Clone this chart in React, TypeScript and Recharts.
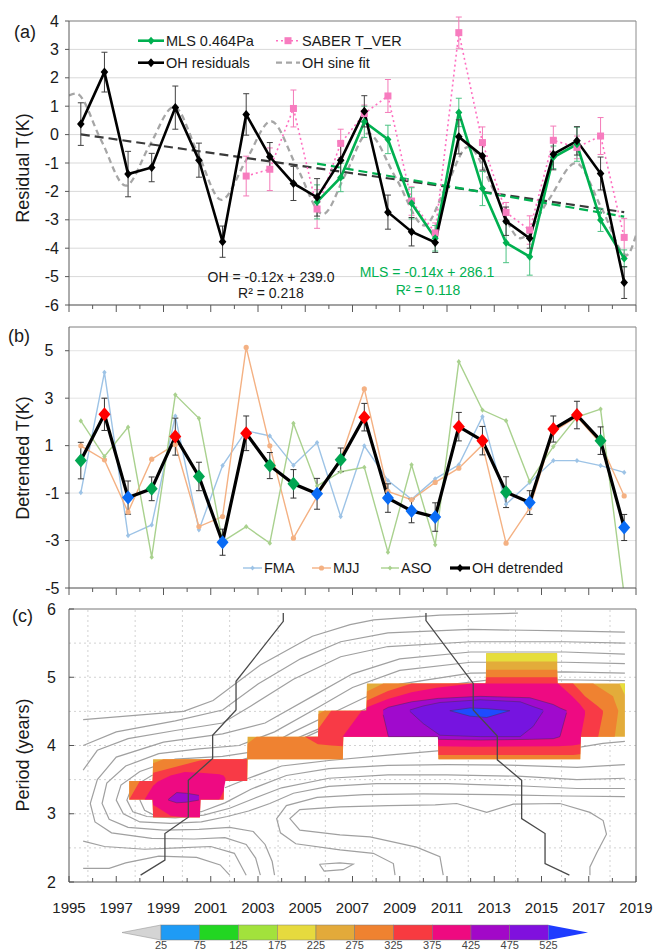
import React from "react";
import {
  ComposedChart,
  Line,
  Area,
  XAxis,
  YAxis,
  CartesianGrid,
  ReferenceLine,
  ErrorBar,
} from "recharts";

const FONT = "'Liberation Sans', Arial, Helvetica, sans-serif";

// ---------- shared x values ----------
const years = [
  1995.5, 1996.5, 1997.5, 1998.5, 1999.5, 2000.5, 2001.5, 2002.5, 2003.5, 2004.5, 2005.5, 2006.5,
  2007.5, 2008.5, 2009.5, 2010.5, 2011.5, 2012.5, 2013.5, 2014.5, 2015.5, 2016.5, 2017.5, 2018.5,
];
const yearTicks = [
  1995, 1996, 1997, 1998, 1999, 2000, 2001, 2002, 2003, 2004, 2005, 2006, 2007, 2008, 2009, 2010,
  2011, 2012, 2013, 2014, 2015, 2016, 2017, 2018, 2019,
];

// ---------- (a) residuals ----------
const ohResiduals = [0.37, 2.2, -1.39, -1.16, 0.95, -0.9, -3.77, 0.71, -0.78, -1.72, -2.21, -0.9, 0.82, -2.73, -3.42, -3.8, -0.08, -0.75, -3.05, -3.65, -0.69, -0.22, -1.37, -5.21];
const ohResidualErr = [0.75, 0.7, 0.8, 0.5, 0.76, 0.6, 0.55, 0.73, 0.5, 0.6, 0.66, 0.65, 0.55, 0.6, 0.5, 0.35, 0.6, 0.5, 0.5, 0.35, 0.55, 0.5, 0.58, 0.56];

const mlsYears = years.slice(10);
const mlsResiduals = [-2.37, -1.51, 0.45, -0.17, -2.42, -3.65, 0.78, -1.9, -3.81, -4.3, -0.8, -0.34, -3.01, -4.36];
const mlsErr = [0.6, 0.5, 0.55, 0.5, 0.55, 0.45, 0.5, 0.6, 0.7, 0.65, 0.4, 0.6, 0.4, 0.3];

const saberYears = years.slice(7);
const saberResiduals = [-1.46, -1.22, 0.92, -2.62, -0.31, 0.74, 1.36, -2.34, -3.46, 3.59, -0.28, -2.74, -3.36, -0.2, -0.45, -0.05, -3.62];
const saberErr = [0.7, 0.75, 0.65, 0.68, 0.5, 0.3, 0.58, 0.5, 0.35, 0.55, 0.55, 0.35, 0.5, 0.5, 0.4, 0.65, 0.67];

const sineX = [1995.0, 1995.3, 1996.35, 1997.4, 1998.4, 1999.45, 2000.45, 2001.45, 2002.5, 2003.55, 2004.65, 2005.75, 2006.7, 2007.65, 2008.85, 2010.05, 2010.95, 2011.9, 2013.0, 2014.1, 2015.3, 2016.45, 2017.55, 2018.6, 2019.0];
const sineY = [1.38, 1.45, -0.18, -1.8, -0.4, 0.98, -0.65, -2.3, -0.9, 0.47, -1.15, -2.8, -1.4, 0.04, -1.55, -3.2, -1.85, -0.43, -2.0, -3.65, -2.3, -1.0, -2.6, -4.24, -3.55];

const ohTrendX = [1995.5, 2018.5];
const ohTrendY = [0.01, -2.73];
const mlsTrendX = [2005.5, 2018.5];
const mlsTrendY = [-1.02, -2.89];

// ---------- (b) detrended ----------
const detOH = [0.37, 2.32, -1.19, -0.82, 1.38, -0.3, -3.07, 1.52, 0.16, -0.61, -1.03, 0.4, 2.2, -1.21, -1.75, -2.01, 1.8, 1.21, -0.96, -1.4, 1.7, 2.29, 1.21, -2.45];
const detErr = [0.77, 0.68, 0.7, 0.5, 0.78, 0.6, 0.55, 0.73, 0.55, 0.6, 0.65, 0.5, 0.58, 0.6, 0.5, 0.6, 0.6, 0.6, 0.65, 0.5, 0.55, 0.58, 0.58, 0.55];
const detPhase = ["g", "r", "b", "g", "r", "g", "b", "r", "g", "g", "b", "g", "r", "b", "b", "b", "r", "r", "g", "b", "r", "r", "g", "b"];
const fma = [-0.98, 4.09, -2.79, -2.34, 2.25, -2.55, 0.16, 1.63, 1.41, 0.17, 1.13, -1.99, 0.99, -0.47, -1.26, -0.4, 0.19, 2.22, -1.47, -0.55, 0.37, 0.37, 0.16, -0.13];
const mjj = [0.99, 0.4, -1.8, 0.43, 1.05, -2.41, -1.99, 5.14, 0.99, -2.9, -1.15, 0.45, 3.39, -0.93, -1.28, -0.55, 0.05, 1.03, -3.11, -1.63, 1.59, 2.22, 1.1, -1.12];
const aso = [2.04, 0.54, 1.78, -3.7, 3.14, 2.15, -3.04, -2.41, -3.11, 1.94, -0.7, -0.1, 0.09, -3.49, 0.19, -3.18, 4.54, 2.5, 2.05, -0.51, 0.96, 2.2, 2.54, -5.3];
const phaseColors: any = { r: "#FF0000", b: "#0A6CF5", g: "#00A651" };

// ---------- (c) wavelet power ----------
// rows: [year, lower period, upper period] of each coloured level (painted low -> high)
const maskRows = [
  [1997.55, 3.21, 3.48], [1998.54, 3.21, 3.48], [1998.56, 2.95, 3.8], [2000.54, 2.95, 3.8],
  [2000.56, 3.21, 3.8], [2001.54, 3.21, 3.8], [2001.56, 3.48, 3.8], [2002.54, 3.48, 3.8],
  [2002.56, 3.8, 4.13], [2005.54, 3.8, 4.13], [2005.56, 3.8, 4.51], [2006.59, 3.8, 4.51],
  [2006.61, 4.13, 4.51], [2007.59, 4.13, 4.51], [2007.61, 4.13, 4.91], [2010.62, 4.13, 4.91],
  [2010.64, 3.8, 4.91], [2012.64, 3.8, 4.91], [2012.66, 3.8, 5.35], [2015.66, 3.8, 5.35],
  [2015.68, 3.8, 4.91], [2016.64, 3.8, 4.91], [2016.66, 4.13, 4.91], [2018.53, 4.13, 4.91],
];
const yellowTop = [[2012.66, 5.23, 5.35], [2015.66, 5.23, 5.35]];
const yellowCorner = [[2018.3, 4.91, 4.91], [2018.53, 4.74, 4.91]];
const orangeRows = [
  [1997.55, 3.21, 3.48], [1998.54, 3.21, 3.48], [1998.56, 2.95, 3.74], [1999.0, 2.95, 3.8],
  [2000.54, 2.95, 3.8], [2000.56, 3.21, 3.8], [2001.54, 3.21, 3.8], [2001.56, 3.48, 3.8],
  [2002.54, 3.48, 3.8], [2002.56, 3.8, 4.03], [2002.94, 3.8, 4.13], [2005.54, 3.8, 4.13],
  [2005.56, 3.8, 4.46], [2005.8, 3.8, 4.51], [2006.59, 3.8, 4.51], [2006.61, 4.13, 4.51],
  [2007.59, 4.13, 4.51], [2007.61, 4.13, 4.79], [2008.3, 4.13, 4.91], [2010.62, 4.13, 4.91],
  [2010.64, 3.8, 4.91], [2012.64, 3.8, 4.91], [2012.66, 3.8, 5.11], [2015.66, 3.8, 5.11],
  [2015.68, 3.8, 4.91], [2016.64, 3.8, 4.91], [2016.66, 4.13, 4.91], [2017.19, 4.13, 4.91],
  [2018.03, 4.13, 4.72], [2018.1, 4.13, 4.65], [2018.25, 4.51, 4.51],
];
const redLeftRows = [
  [1997.55, 3.21, 3.21], [1998.0, 3.21, 3.48], [1998.54, 3.21, 3.48], [1998.56, 2.95, 3.6],
  [2000.54, 2.95, 3.78], [2000.56, 3.21, 3.78], [2000.9, 3.21, 3.8], [2001.54, 3.21, 3.8],
  [2001.56, 3.48, 3.8], [2002.54, 3.48, 3.8],
];
const redRows = [
  [2004.99, 4.13, 4.13], [2005.48, 4.03, 4.13], [2005.54, 4.02, 4.13], [2005.56, 4.02, 4.25],
  [2006.1, 4.0, 4.51], [2006.59, 3.99, 4.51], [2006.61, 4.13, 4.51], [2007.59, 4.13, 4.51],
  [2007.61, 4.13, 4.66], [2008.5, 4.13, 4.8], [2009.5, 4.13, 4.91], [2010.62, 4.13, 4.91],
  [2010.64, 3.86, 4.91], [2012.64, 3.86, 4.91], [2012.66, 3.86, 5.0], [2015.66, 3.86, 5.0],
  [2015.68, 3.86, 4.91], [2016.34, 3.86, 4.91], [2016.64, 3.87, 4.8], [2016.66, 4.13, 4.79],
  [2016.84, 4.13, 4.72], [2017.4, 4.13, 4.57], [2017.6, 4.47, 4.51],
];
const magentaLeftRows = [
  [1998.2, 3.21, 3.21], [1998.54, 3.21, 3.4], [1998.56, 3.13, 3.41], [1998.75, 3.09, 3.47],
  [1999.3, 2.97, 3.56], [1999.9, 2.95, 3.61], [2000.54, 2.95, 3.6], [2000.56, 3.21, 3.6],
  [2001.36, 3.21, 3.58], [2001.54, 3.33, 3.56], [2001.62, 3.48, 3.52],
];
const magentaRows = [
  [2006.58, 4.13, 4.13], [2007.39, 4.13, 4.51], [2007.59, 4.13, 4.51], [2007.61, 4.13, 4.56],
  [2008.5, 4.13, 4.68], [2009.5, 4.13, 4.78], [2010.62, 4.13, 4.85], [2010.64, 3.99, 4.85],
  [2012.1, 3.98, 4.91], [2015.7, 3.99, 4.91], [2016.3, 4.0, 4.72], [2016.64, 4.02, 4.6],
  [2016.66, 4.13, 4.59], [2016.84, 4.45, 4.51],
];
const purpleLeftRows = [[1999.2, 3.2, 3.21], [1999.56, 3.16, 3.31], [1999.98, 3.17, 3.3], [2000.5, 3.2, 3.27]];
const purpleRows = [
  [2008.3, 4.45, 4.52], [2008.52, 4.13, 4.56], [2009.5, 4.13, 4.64], [2010.62, 4.13, 4.69],
  [2010.64, 4.09, 4.69], [2012.4, 4.08, 4.72], [2014.5, 4.09, 4.7], [2015.5, 4.1, 4.6],
  [2015.78, 4.13, 4.55], [2016.06, 4.48, 4.51],
];
const violetRows = [
  [2009.43, 4.5, 4.52], [2010.0, 4.32, 4.58], [2010.7, 4.15, 4.63], [2012.4, 4.13, 4.67],
  [2014.1, 4.13, 4.64], [2014.65, 4.28, 4.57], [2015.07, 4.5, 4.52],
];
const blueRows = [[2011.12, 4.51, 4.51], [2011.97, 4.43, 4.55], [2012.68, 4.41, 4.54], [2013.66, 4.51, 4.51]];

// grey power contours, [year, period]
const contours = [
  [[1995.6, 4.38], [1999.85, 4.5], [2001.1, 4.66], [2003.1, 5.18], [2005.3, 5.6], [2006.9, 5.77], [2007.9, 5.84], [2010.7, 5.91], [2014.0, 5.94]],
  [[1995.6, 4.0], [1997.0, 4.2], [1999.5, 4.36], [2001.5, 4.52], [2003.0, 4.9], [2004.8, 5.27], [2006.5, 5.52], [2008.5, 5.65], [2012.0, 5.7], [2016.0, 5.68], [2018.53, 5.66]],
  [[1995.6, 3.64], [1996.2, 3.93], [1997.5, 4.1], [1999.5, 4.22], [2001.5, 4.33], [2002.7, 4.58], [2004.5, 4.97], [2006.5, 5.3], [2008.5, 5.45], [2012.0, 5.52], [2016.0, 5.52], [2018.53, 5.5]],
  [[2018.53, 5.34], [2016.0, 5.37], [2012.0, 5.37], [2009.0, 5.27], [2007.0, 5.05], [2005.3, 4.72], [2003.3, 4.33], [2001.5, 4.17], [1999.0, 4.05], [1997.0, 3.83], [1996.2, 3.5], [1995.9, 3.15], [1996.1, 2.88], [1996.8, 2.72], [1998.5, 2.64], [2000.3, 2.63], [2001.6, 2.65], [2002.5, 2.55], [2002.9, 2.35], [2003.1, 2.1]],
  [[2018.53, 5.2], [2016.0, 5.22], [2012.0, 5.22], [2009.0, 5.1], [2007.0, 4.85], [2005.5, 4.55], [2003.7, 4.2], [2002.2, 4.0], [2000.5, 3.95], [1998.8, 3.88], [1997.4, 3.7], [1996.6, 3.45], [1996.4, 3.15], [1996.7, 2.92], [1997.5, 2.8], [1999.0, 2.76], [2000.5, 2.77], [2001.8, 2.8], [2002.8, 2.74], [2003.3, 2.55], [2003.6, 2.3], [2003.7, 2.1]],
  [[2018.53, 5.06], [2016.0, 5.08], [2012.0, 5.06], [2009.0, 4.9], [2007.5, 4.7], [2006.0, 4.45], [2004.5, 4.2], [2003.0, 3.92], [2001.5, 3.84], [1999.5, 3.8], [1998.0, 3.62], [1997.2, 3.42], [1997.0, 3.2], [1997.3, 3.0], [1998.0, 2.88], [1999.3, 2.86], [2000.6, 2.88], [2001.7, 2.96], [2002.6, 3.04], [2003.5, 3.15], [2004.5, 3.3], [2006.0, 3.4], [2008.0, 3.44], [2011.0, 3.44], [2014.0, 3.41], [2016.5, 3.37], [2018.53, 3.37]],
  [[2018.53, 4.95], [2016.5, 4.96], [2013.0, 4.97], [2010.0, 4.85], [2008.0, 4.6], [2006.5, 4.38], [2005.0, 4.16], [2003.0, 3.86], [2001.8, 3.74], [2000.0, 3.7], [1998.5, 3.56], [1997.65, 3.38], [1997.45, 3.2], [1997.7, 3.03], [1998.3, 2.96], [1999.5, 2.94], [2000.7, 2.98], [2001.8, 3.08], [2002.8, 3.22], [2004.0, 3.38], [2006.0, 3.52], [2008.5, 3.57], [2011.0, 3.57], [2014.0, 3.55], [2016.5, 3.5], [2018.53, 3.52]],
  [[2009.0, 4.7], [2007.3, 4.48], [2005.5, 4.2], [2003.5, 3.88], [2002.0, 3.76], [2000.5, 3.7], [1999.0, 3.55], [1998.2, 3.36], [1998.0, 3.2], [1998.2, 3.05], [1998.6, 2.98], [1999.5, 2.97], [2000.6, 3.03], [2001.6, 3.16], [2002.7, 3.36], [2004.2, 3.56], [2006.0, 3.66], [2008.5, 3.71], [2011.0, 3.72], [2014.0, 3.71], [2016.5, 3.68], [2018.53, 3.72]],
  [[2001.6, 3.38], [2002.6, 3.52], [2004.0, 3.7], [2006.0, 3.78], [2008.5, 3.86], [2010.6, 3.92], [2013.0, 3.93], [2016.7, 3.98], [2017.6, 4.03], [2018.53, 4.06]],
  [[2010.84, 2.1], [2010.7, 2.37], [2009.71, 2.51], [2007.74, 2.66], [2006.47, 2.69], [2004.77, 2.76], [2004.35, 2.93], [2004.77, 3.06], [2006.47, 3.1], [2008.5, 3.12], [2010.5, 3.13], [2011.41, 3.15], [2012.68, 3.02], [2013.8, 3.14], [2015.78, 3.15], [2017.05, 3.02], [2017.61, 2.9], [2017.75, 2.7], [2017.33, 2.42], [2017.05, 2.22], [2017.05, 2.1]],
  [[2008.8, 2.1], [2008.73, 2.27], [2007.88, 2.42], [2006.47, 2.47], [2004.6, 2.56], [2003.95, 2.72], [2003.79, 2.93], [2004.2, 3.12], [2005.5, 3.24], [2007.5, 3.28], [2010.0, 3.29], [2013.0, 3.28], [2016.0, 3.26], [2018.53, 3.25]],
  [[1995.6, 2.2], [1996.7, 2.2], [1997.4, 2.28], [1998.8, 2.38], [2000.4, 2.36], [2001.4, 2.25], [2001.8, 2.1]],
  [[1995.6, 2.6], [1996.5, 2.52], [1998.2, 2.48], [1999.6, 2.5], [2001.0, 2.52], [2002.0, 2.42], [2002.5, 2.1]],
  [[2005.6, 2.26], [2006.47, 2.28], [2007.03, 2.26], [2006.6, 2.18], [2005.8, 2.16], [2005.6, 2.26]],
];
const ridgeLeft = [[1998.03, 2.1], [1999.06, 2.32], [1999.06, 2.71], [2000.05, 2.95], [2000.05, 3.49], [2001.08, 3.81], [2001.08, 4.15], [2002.07, 4.52], [2002.07, 4.94], [2004.07, 5.82], [2004.07, 5.94]];
const ridgeRight = [[2010.11, 5.94], [2010.11, 5.83], [2012.11, 4.91], [2012.11, 4.52], [2013.13, 4.14], [2013.13, 3.79], [2014.16, 3.49], [2014.16, 2.93], [2015.15, 2.71], [2015.15, 2.27], [2016.18, 2.1]];
const gridYears = [1995.8, 1997.8, 1999.8, 2001.8, 2003.85, 2005.85, 2007.85, 2009.85, 2011.9, 2013.9, 2015.85, 2017.9];
const gridPeriods = [2.5, 3, 3.5, 4, 4.5, 5, 5.5];

const colorbarColors = ["#1E9BF5", "#22D622", "#A2E23C", "#E6DA3E", "#E3AA3A", "#EF8230", "#F83A40", "#EE0A80", "#A208C8", "#8010DE"];
const colorbarLabels = [25, 75, 125, 175, 225, 275, 325, 375, 425, 475, 525];

// ---------- helpers ----------
const pts = (xs: number[], ys: number[], es?: number[]) =>
  xs.map((x, i) => (es ? { x, y: ys[i], e: es[i] } : { x, y: ys[i] }));
const path = (rows: number[][]) => rows.map(([x, y]) => ({ x, y }));
const band = (rows: number[][]) => rows.map(([x, lo, hi]) => ({ x, v: [lo, hi] }));

const diamond = (color: string, rx: number, ry: number) => (p: any) => (
  <path
    key={`d${p.index}`}
    d={`M${p.cx} ${p.cy - ry}L${p.cx + rx} ${p.cy}L${p.cx} ${p.cy + ry}L${p.cx - rx} ${p.cy}Z`}
    fill={color}
  />
);
const squareDot = (p: any) => (
  <rect key={`s${p.index}`} x={p.cx - 3.5} y={p.cy - 3.5} width={7} height={7} fill="#F77CBF" />
);
const circleDot = (color: string) => (p: any) => (
  <circle key={`c${p.index}`} cx={p.cx} cy={p.cy} r={2.6} fill={color} />
);
const phaseDot = (p: any) => {
  const c = phaseColors[detPhase[p.index]];
  return diamond(c, 6, 7)(p);
};

function YearTick(props: any) {
  const { x, y, payload, up, label } = props;
  const v = payload.value;
  const major = (v - 1995) % 2 === 0;
  const y2 = up ? y - (major ? 6 : 4) : y + (major ? 7 : 4);
  return (
    <g>
      <line x1={x} x2={x} y1={y} y2={y2} stroke={up ? "#555" : "#595959"} strokeWidth={1} />
      {label && major ? (
        <text x={x} y={y + 31} textAnchor="middle" fontSize={15} fill="#222">
          {v}
        </text>
      ) : null}
    </g>
  );
}

function DetTick(props: any) {
  const { x, y, payload } = props;
  const v = payload.value;
  return (
    <text x={v > 0 ? x - 11.5 : x - 5.5} y={y} dy="0.35em" textAnchor="end" fontSize={16} fill="#1a1a1a">
      {v}
    </text>
  );
}

function PeriodTick(props: any) {
  const { x, y, payload } = props;
  return (
    <g>
      <line x1={x} x2={x + 5} y1={y} y2={y} stroke="#555" />
      <text x={x - 13} y={y} dy="0.35em" textAnchor="end" fontSize={16} fill="#1a1a1a">
        {payload.value}
      </text>
    </g>
  );
}

const na = { isAnimationActive: false } as any;

function PanelA() {
  return (
    <ComposedChart width={656} height={318} margin={{ top: 21, right: 20, bottom: 0, left: 0 }}>
      <CartesianGrid vertical={false} stroke="#d9d9d9" />
      <XAxis
        type="number"
        dataKey="x"
        domain={[1995, 2019]}
        allowDataOverflow
        ticks={yearTicks}
        interval={0}
        height={13}
        tickSize={0}
        tickMargin={0}
        tickLine={false}
        axisLine={{ stroke: "#595959" }}
        tick={(p: any) => <YearTick {...p} />}
      />
      <YAxis
        type="number"
        domain={[-6, 4]}
        allowDataOverflow
        ticks={[-6, -5, -4, -3, -2, -1, 0, 1, 2, 3, 4]}
        interval={0}
        width={69}
        tickSize={4}
        tickMargin={6}
        tick={{ fontSize: 16, fill: "#1a1a1a" }}
        axisLine={{ stroke: "#595959" }}
        tickLine={{ stroke: "#595959" }}
      />
      <ReferenceLine y={4} stroke="#8c8c8c" />
      <ReferenceLine x={2019} stroke="#8c8c8c" />
      <Line {...na} data={pts(sineX, sineY)} dataKey="y" type="monotone" stroke="#a6a6a6" strokeWidth={2.3} strokeDasharray="6 4" dot={false} />
      <Line {...na} data={pts(ohTrendX, ohTrendY)} dataKey="y" type="linear" stroke="#3a3a3a" strokeWidth={2.2} strokeDasharray="9 5" dot={false} />
      <Line {...na} data={pts(mlsTrendX, mlsTrendY)} dataKey="y" type="linear" stroke="#00B050" strokeWidth={2.2} strokeDasharray="9 5" dot={false} />
      <Line {...na} data={pts(saberYears, saberResiduals, saberErr)} dataKey="y" type="linear" stroke="#FF6EC0" strokeWidth={1.6} strokeDasharray="2 3" dot={squareDot}>
        <ErrorBar dataKey="e" width={3} stroke="#F47AB8" strokeWidth={1} {...na} />
      </Line>
      <Line {...na} data={pts(mlsYears, mlsResiduals, mlsErr)} dataKey="y" type="linear" stroke="#00B050" strokeWidth={2.6} dot={diamond("#00B050", 3.5, 4)}>
        <ErrorBar dataKey="e" width={3} stroke="#4CC383" strokeWidth={1} {...na} />
      </Line>
      <Line {...na} data={pts(years, ohResiduals, ohResidualErr)} dataKey="y" type="linear" stroke="#000" strokeWidth={2.6} dot={diamond("#000", 3.8, 4.5)}>
        <ErrorBar dataKey="e" width={3} stroke="#404040" strokeWidth={1} {...na} />
      </Line>
    </ComposedChart>
  );
}

function PanelB() {
  return (
    <ComposedChart width={656} height={292} margin={{ top: 18, right: 20, bottom: 0, left: 0 }}>
      <CartesianGrid vertical={false} stroke="#e3e3e3" />
      <XAxis
        type="number"
        dataKey="x"
        domain={[1995, 2019]}
        allowDataOverflow
        ticks={yearTicks}
        interval={0}
        height={13}
        tickSize={0}
        tickMargin={0}
        tickLine={false}
        axisLine={{ stroke: "#595959" }}
        tick={(p: any) => <YearTick {...p} />}
      />
      <YAxis
        type="number"
        domain={[-5, 6]}
        allowDataOverflow
        ticks={[-5, -3, -1, 1, 3, 5]}
        interval={0}
        width={69}
        tickSize={4}
        tickMargin={0}
        tick={(p: any) => <DetTick {...p} />}
        axisLine={{ stroke: "#595959" }}
        tickLine={{ stroke: "#595959" }}
      />
      <ReferenceLine y={6} stroke="#8c8c8c" />
      <ReferenceLine x={2019} stroke="#8c8c8c" />
      <Line {...na} data={pts(years, fma)} dataKey="y" type="linear" stroke="#9DC3E6" strokeWidth={1.4} dot={diamond("#9DC3E6", 2.2, 2.6)} />
      <Line {...na} data={pts(years, mjj)} dataKey="y" type="linear" stroke="#F4B183" strokeWidth={1.4} dot={circleDot("#F4B183")} />
      <Line {...na} data={pts(years, aso)} dataKey="y" type="linear" stroke="#A9D18E" strokeWidth={1.4} dot={diamond("#A9D18E", 2.2, 2.6)} />
      <Line {...na} data={pts(years, detOH, detErr)} dataKey="y" type="linear" stroke="#000" strokeWidth={3.2} dot={phaseDot}>
        <ErrorBar dataKey="e" width={3} stroke="#333" strokeWidth={1} {...na} />
      </Line>
    </ComposedChart>
  );
}

function PanelCUnder() {
  return (
    <ComposedChart width={656} height={327} margin={{ top: 14, right: 20, bottom: 40, left: 69 }}>
      <XAxis hide type="number" dataKey="x" domain={[1995, 2019]} allowDataOverflow />
      <YAxis hide type="number" domain={[2, 6]} allowDataOverflow />
      {gridYears.map((g) => (
        <ReferenceLine key={`gx${g}`} x={g} stroke="#d2d2d2" strokeDasharray="2 3" />
      ))}
      {gridPeriods.map((g) => (
        <ReferenceLine key={`gy${g}`} y={g} stroke="#d2d2d2" strokeDasharray="2 3" />
      ))}
      {contours.map((c, i) => (
        <Line key={`ct${i}`} {...na} data={path(c)} dataKey="y" type="linear" stroke="#a0a0a0" strokeWidth={1.2} dot={false} />
      ))}
    </ComposedChart>
  );
}

// [rows, fill, outlined?]
const levels: [number[][], string, boolean][] = [
  [maskRows, "#E3AC3A", false],
  [yellowTop, "#E6DE3C", false],
  [yellowCorner, "#E6DE3C", false],
  [orangeRows, "#EF8231", false],
  [redLeftRows, "#F83A46", false],
  [redRows, "#F83A46", false],
  [magentaLeftRows, "#EE0A82", false],
  [magentaRows, "#EE0A82", false],
  [purpleLeftRows, "#9E0ACD", true],
  [purpleRows, "#A00ACD", true],
  [violetRows, "#7614E0", true],
  [blueRows, "#1E4BFF", true],
];

function PanelCOver() {
  return (
    <ComposedChart width={656} height={327} margin={{ top: 14, right: 20, bottom: 0, left: 0 }}>
      <XAxis
        type="number"
        dataKey="x"
        domain={[1995, 2019]}
        allowDataOverflow
        ticks={yearTicks}
        interval={0}
        height={40}
        tickSize={0}
        tickMargin={0}
        tickLine={false}
        axisLine={{ stroke: "#555" }}
        tick={(p: any) => <YearTick {...p} up label />}
      />
      <YAxis
        type="number"
        domain={[2, 6]}
        allowDataOverflow
        ticks={[2, 3, 4, 5, 6]}
        interval={0}
        width={69}
        tickSize={0}
        tickMargin={0}
        tickLine={false}
        axisLine={{ stroke: "#555" }}
        tick={(p: any) => <PeriodTick {...p} />}
      />
      <ReferenceLine y={6} stroke="#777" />
      <ReferenceLine x={2019} stroke="#777" />
      {levels.map(([rows, color, outlined], i) => (
        <Area
          key={`lv${i}`}
          {...na}
          data={band(rows)}
          dataKey="v"
          type="linear"
          fill={color}
          fillOpacity={1}
          stroke={outlined ? "#4b2a55" : "none"}
          strokeWidth={0.7}
          strokeOpacity={0.7}
        />
      ))}
      <Line {...na} data={path(ridgeLeft)} dataKey="y" type="linear" stroke="#4a4a4a" strokeWidth={1.3} dot={false} />
      <Line {...na} data={path(ridgeRight)} dataKey="y" type="linear" stroke="#4a4a4a" strokeWidth={1.3} dot={false} />
    </ComposedChart>
  );
}

function Overlay() {
  const t = { fontSize: 14.5, fill: "#1a1a1a" };
  return (
    <svg width={656} height={950} style={{ position: "absolute", left: 0, top: 0, pointerEvents: "none" }}>
      {/* panel letters and axis titles */}
      <text x={14} y={38} fontSize={18} fill="#1a1a1a">(a)</text>
      <text x={8} y={342} fontSize={18} fill="#1a1a1a">(b)</text>
      <text x={12} y={622} fontSize={18} fill="#1a1a1a">(c)</text>
      <text transform="translate(29,168) rotate(-90)" textAnchor="middle" fontSize={18} fill="#1a1a1a">Residual T(K)</text>
      <text transform="translate(29,458) rotate(-90)" textAnchor="middle" fontSize={18} fill="#1a1a1a">Detrended T(K)</text>
      <text transform="translate(29,755) rotate(-90)" textAnchor="middle" fontSize={18} fill="#1a1a1a">Period (years)</text>

      {/* legend (a) */}
      <line x1={138} x2={164} y1={40.7} y2={40.7} stroke="#00B050" strokeWidth={2.6} />
      <path d="M151 36.7L154.5 40.7L151 44.7L147.5 40.7Z" fill="#00B050" />
      <text x={166} y={46} {...t}>MLS 0.464Pa</text>
      <line x1={276} x2={300} y1={40.7} y2={40.7} stroke="#FF6EC0" strokeWidth={1.6} strokeDasharray="2 3" />
      <rect x={284.5} y={37.2} width={7} height={7} fill="#F77CBF" />
      <text x={302} y={46} {...t}>SABER T_VER</text>
      <line x1={138} x2={164} y1={62.7} y2={62.7} stroke="#000" strokeWidth={2.6} />
      <path d="M151 58.2L154.8 62.7L151 67.2L147.2 62.7Z" fill="#000" />
      <text x={166} y={68} {...t}>OH residuals</text>
      <line x1={276} x2={300} y1={62.7} y2={62.7} stroke="#a6a6a6" strokeWidth={2.3} strokeDasharray="6 4" />
      <text x={302} y={68} {...t}>OH sine fit</text>

      {/* fit equations */}
      <text x={271} y={282} textAnchor="middle" fontSize={14} fill="#1a1a1a">OH = -0.12x + 239.0</text>
      <text x={271} y={298} textAnchor="middle" fontSize={14} fill="#1a1a1a">R² = 0.218</text>
      <text x={427} y={277} textAnchor="middle" fontSize={14} fill="#00B050">MLS = -0.14x + 286.1</text>
      <text x={428} y={295} textAnchor="middle" fontSize={14} fill="#00B050">R² = 0.118</text>

      {/* legend (b) */}
      <line x1={243} x2={262} y1={568} y2={568} stroke="#9DC3E6" strokeWidth={1.4} />
      <path d="M252.5 565.4L254.7 568L252.5 570.6L250.3 568Z" fill="#9DC3E6" />
      <text x={264} y={573} {...t}>FMA</text>
      <line x1={312} x2={331} y1={568} y2={568} stroke="#F4B183" strokeWidth={1.4} />
      <circle cx={321.5} cy={568} r={2.6} fill="#F4B183" />
      <text x={333} y={573} {...t}>MJJ</text>
      <line x1={381} x2={399} y1={568} y2={568} stroke="#A9D18E" strokeWidth={1.4} />
      <path d="M390 565.4L392.2 568L390 570.6L387.8 568Z" fill="#A9D18E" />
      <text x={401} y={573} {...t}>ASO</text>
      <line x1={450} x2={470} y1={568} y2={568} stroke="#000" strokeWidth={3.2} />
      <path d="M460 564L463.5 568L460 572L456.5 568Z" fill="#000" />
      <text x={472} y={573} {...t}>OH detrended</text>

      {/* colour bar */}
      <path d="M122 932.5L161 925L161 940Z" fill="#d4d4d4" stroke="#999" strokeWidth={0.6} />
      {colorbarColors.map((c, i) => (
        <rect key={`cb${i}`} x={161 + i * 38.75} y={925} width={38.75} height={15} fill={c} stroke="#777" strokeWidth={0.5} />
      ))}
      <path d="M548.5 925L588 932.5L548.5 940Z" fill="#1E3CFF" />
      {colorbarLabels.map((l, i) => (
        <text key={`cl${i}`} x={161 + i * 38.75} y={949} textAnchor="middle" fontSize={11} fill="#444">
          {l}
        </text>
      ))}
    </svg>
  );
}

export default function App() {
  return (
    <div
      style={{
        position: "absolute",
        left: 0,
        top: 0,
        width: 656,
        height: 950,
        background: "#fff",
        fontFamily: FONT,
        overflow: "hidden",
      }}
    >
      <div style={{ position: "absolute", left: 0, top: 0 }}>
        <PanelA />
      </div>
      <div style={{ position: "absolute", left: 0, top: 309 }}>
        <PanelB />
      </div>
      <div style={{ position: "absolute", left: 0, top: 595 }}>
        <PanelCUnder />
      </div>
      <div style={{ position: "absolute", left: 0, top: 595 }}>
        <PanelCOver />
      </div>
      <Overlay />
    </div>
  );
}
